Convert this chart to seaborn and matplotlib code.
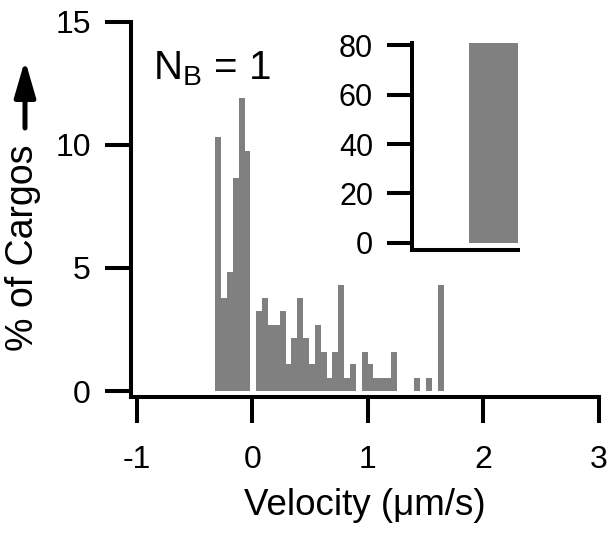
import numpy as np
import pandas as pd
import matplotlib
matplotlib.use("Agg")
import matplotlib.pyplot as plt
import seaborn as sns

# ---- data ----
velocity_centres = [-0.297, -0.246, -0.195, -0.145, -0.094, -0.043, 0.008, 0.058,
                    0.109, 0.160, 0.210, 0.261, 0.312, 0.362, 0.413, 0.464,
                    0.514, 0.565, 0.616, 0.666, 0.717, 0.768, 0.818, 0.869,
                    0.920, 0.971, 1.021, 1.072, 1.123, 1.173, 1.224, 1.275,
                    1.325, 1.376, 1.427, 1.477, 1.528, 1.579, 1.629]
pct_cargos = [10.3, 3.8, 4.85, 8.65, 11.9, 9.75, 0.0, 3.25,
              3.8, 2.7, 2.7, 3.25, 1.1, 2.15, 3.8, 2.15,
              1.1, 2.7, 1.6, 0.54, 1.6, 4.3, 0.54, 1.1,
              0.0, 1.6, 1.1, 0.54, 0.54, 0.54, 1.6, 0.0,
              0.0, 0.0, 0.54, 0.0, 0.54, 0.0, 4.3]
bin_lo, bin_hi, n_bins = -0.322, 1.655, 39

inset_labels = ["moving"]
inset_values = [81.0]

x_ticks = [-1, 0, 1, 2, 3]
y_ticks = [0, 5, 10, 15]
inset_y_ticks = [0, 20, 40, 60, 80]

# ---- style ----
sns.set_style("white")
plt.rcParams["font.family"] = ["Liberation Sans", "DejaVu Sans"]
plt.rcParams["mathtext.fontset"] = "custom"
plt.rcParams["mathtext.rm"] = "Liberation Sans"
plt.rcParams["mathtext.it"] = "Liberation Sans"
for k in ["text.color", "axes.labelcolor", "xtick.color", "ytick.color",
          "axes.edgecolor"]:
    plt.rcParams[k] = "black"

W, H = 615, 536
fig = plt.figure(figsize=(W / 100, H / 100), dpi=100)
fig.patch.set_facecolor("white")

bar_col = "#808080"
spine_lw = 2.9

# ---- main axes ----
ax = fig.add_axes([130.5 / W, (H - 397) / H, (599 - 130.5) / W, (397 - 21.7) / H])
df = pd.DataFrame({"velocity": velocity_centres, "pct": pct_cargos})
sns.histplot(data=df, x="velocity", weights="pct", bins=n_bins,
             binrange=(bin_lo, bin_hi), color=bar_col, alpha=1,
             linewidth=0, edgecolor="none", ax=ax)
ax.set_xlim(-1.056, 3.0)
ax.set_ylim(-0.24, 15)
ax.set_xticks(x_ticks)
ax.set_xticklabels([str(t) for t in x_ticks])
ax.set_yticks(y_ticks)
ax.set_yticklabels([str(t) for t in y_ticks])
for s in ["top", "right"]:
    ax.spines[s].set_visible(False)
for s in ["left", "bottom"]:
    ax.spines[s].set_linewidth(spine_lw)
    ax.spines[s].set_color("black")
ax.tick_params(axis="x", bottom=True, direction="out", length=18.7, width=spine_lw,
               labelsize=23, pad=16, colors="black")
ax.tick_params(axis="y", left=True, direction="out", length=18.7, width=spine_lw,
               labelsize=23, pad=10, colors="black")
ax.set_xlabel("Velocity (μm/s)", fontsize=26.5, labelpad=9)
ax.set_ylabel("")
ax.grid(False)

# y label with arrow
fig.text(23 / W, (H - 248) / H, "% of Cargos", rotation=90, fontsize=27,
         ha="center", va="center")
fig.add_artist(matplotlib.patches.FancyArrowPatch(
    (25, H - 128), (25, H - 60), transform=None,
    arrowstyle="-|>,head_length=1.1,head_width=0.32", mutation_scale=20,
    lw=3.6, color="black", shrinkA=0, shrinkB=0))

# N_B label
fig.text(153 / W, (H - 79) / H, r"$\mathrm{N_B}$ = 1", fontsize=29,
         ha="left", va="baseline")

# ---- inset ----
axi = fig.add_axes([412 / W, (H - 249.7) / H, 106.3 / W, (249.7 - 43) / H])
sns.barplot(x=inset_labels, y=inset_values, color=bar_col, saturation=1,
            width=0.8, linewidth=0, ax=axi)
axi.set_xlim(-1.325, 0.4)
axi.set_ylim(-2.84, 81)
axi.set_xticks([])
axi.set_yticks(inset_y_ticks)
axi.set_yticklabels([str(t) for t in inset_y_ticks])
axi.set_xlabel("")
axi.set_ylabel("")
for s in ["top", "right"]:
    axi.spines[s].set_visible(False)
for s in ["left", "bottom"]:
    axi.spines[s].set_linewidth(spine_lw)
    axi.spines[s].set_color("black")
axi.tick_params(axis="y", left=True, direction="out", length=18, width=spine_lw,
                labelsize=22, pad=10, colors="black")
axi.patch.set_alpha(0)
axi.grid(False)

fig.savefig("out.png", dpi=100, facecolor="white")
